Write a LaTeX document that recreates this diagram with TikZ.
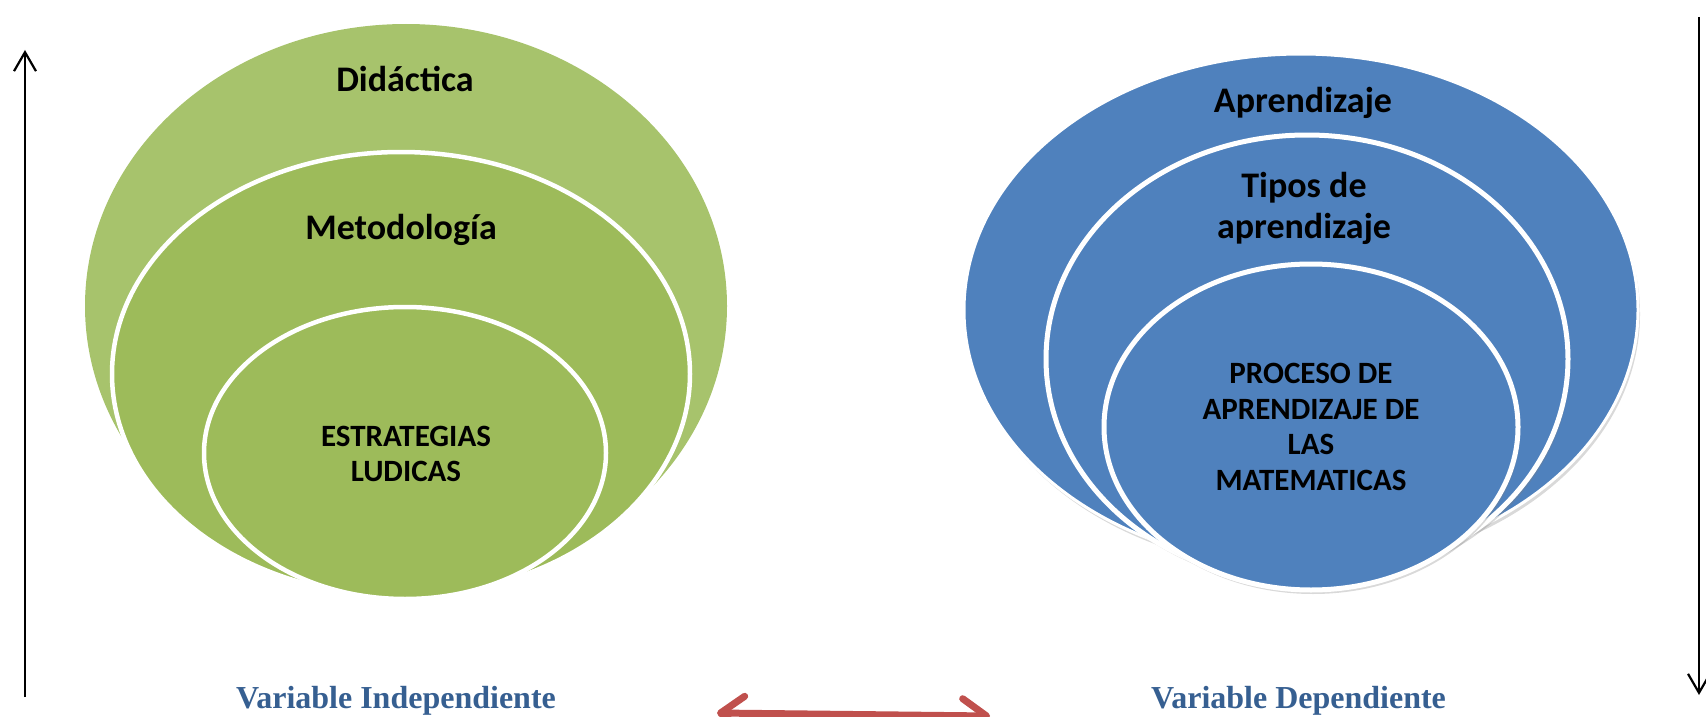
\documentclass[tikz,border=0pt]{standalone}
\usepackage{fontspec}
\setmainfont{Carlito}
\newfontfamily\labelserif{Liberation Serif}
\usetikzlibrary{shapes.geometric,arrows.meta,shadows}
\definecolor{greenA}{RGB}{167,195,108}
\definecolor{greenB}{RGB}{157,187,90}
\definecolor{blueA}{RGB}{79,129,189}
\definecolor{labelblue}{RGB}{54,95,145}
\definecolor{redA}{RGB}{192,80,77}
\begin{document}
\begin{tikzpicture}[x=1pt,y=-1pt,
  ellbase/.style={ellipse, inner sep=0pt},
  greenouter/.style={ellbase, fill=greenA},
  greenin/.style={ellbase, fill=greenB, draw=white, line width=4.5pt},
  bluein/.style={ellbase, fill=blueA, draw=white, line width=5pt,
     drop shadow={opacity=0.3, shadow xshift=2pt, shadow yshift=-4pt}},
  bigtext/.style={font=\bfseries\fontsize{36}{41}\selectfont, inner sep=0pt, align=center},
  smalltext/.style={font=\bfseries\fontsize{31}{35.5}\selectfont, inner sep=0pt, align=center},
  varlabel/.style={font=\labelserif\bfseries\fontsize{32}{36}\selectfont, text=labelblue, inner sep=0pt, anchor=base},
  blackarrow/.style={line width=2.2pt, -{Straight Barb[length=19pt,width=22pt]}},
  redarrow/.style={redA, line width=7pt, line cap=round,
     {Straight Barb[length=24pt,width=34pt,round]}-{Straight Barb[length=24pt,width=34pt,round]}}
]
\useasboundingbox (0,0) rectangle (1706,717);

% left (green) group
\node[greenouter, minimum width=642pt, minimum height=564pt] (didE) at (406,306) {};
\node[greenin, minimum width=578pt, minimum height=444pt] (metE) at (401,374) {};
\node[greenin, minimum width=402pt, minimum height=292pt] (estE) at (405,453) {};
\node[bigtext, anchor=base] (didT) at (405,92) {Didáctica};
\node[bigtext, anchor=base] (metT) at (401,239) {Metodología};
\node[smalltext] (estT) at (406,454) {ESTRATEGIAS\\LUDICAS};

% right (blue) group
\node[bluein, line width=3pt, minimum width=674pt, minimum height=512pt] (aprE) at (1301,310) {};
\node[bluein, minimum width=522pt, minimum height=448pt] (tipE) at (1307,359) {};
\node[bluein, minimum width=414pt, minimum height=326pt] (proE) at (1311,427) {};
\node[bigtext, anchor=base] (aprT) at (1303,113) {Aprendizaje};
\node[bigtext] (tipT) at (1304,208.5) {Tipos de\\aprendizaje};
\node[smalltext] (proT) at (1311,427) {PROCESO DE\\APRENDIZAJE DE\\LAS\\MATEMATICAS};

% labels
\node[varlabel] (vi) at (396,708) {Variable Independiente};
\node[varlabel] (vd) at (1298.5,708) {Variable Dependiente};

% side arrows
\coordinate (la0) at (25,697);
\coordinate (la1) at (25,50);
\draw[blackarrow] (la0) -- (la1);
\coordinate (ra0) at (1699,17);
\coordinate (ra1) at (1699,695);
\draw[blackarrow] (ra0) -- (ra1);

% red double arrow
\coordinate (rr0) at (717,713);
\coordinate (rr1) at (990,716);
\draw[redarrow] (rr0) -- (rr1);
\end{tikzpicture}
\end{document}
